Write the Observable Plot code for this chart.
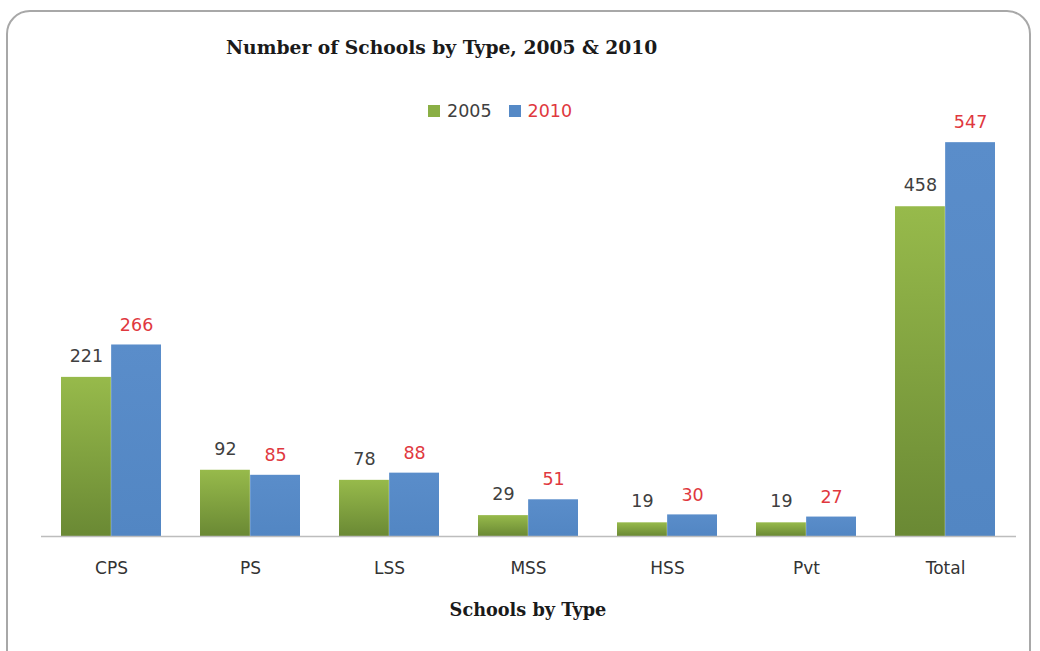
<!DOCTYPE html>
<html>
<head>
<meta charset="utf-8">
<script src="https://cdn.jsdelivr.net/npm/d3@7"></script>
<script src="https://cdn.jsdelivr.net/npm/@observablehq/plot@0.6"></script>
<style>
  html, body { margin: 0; padding: 0; background: #fff; width: 1040px; height: 651px; overflow: hidden; }
  #wrap { position: relative; width: 1040px; height: 651px; }
  #frame { position: absolute; left: 6px; top: 10px; width: 1025px; height: 680px; border: 2px solid #a8a8a8; border-radius: 24px; box-sizing: border-box; }
  #title { position: absolute; left: 226px; top: 34px; font-family: "DejaVu Serif", serif; font-weight: bold; font-size: 18.7px; color: #1a1a1a; white-space: nowrap; line-height: 26px; letter-spacing: 0px; }
  #legend { position: absolute; left: 428px; top: 99px; font-family: "DejaVu Sans", sans-serif; font-size: 17.5px; line-height: 24px; white-space: nowrap; display: flex; align-items: center; }
  #legend .sw { display: inline-block; width: 12px; height: 12px; margin-right: 7px; }
  #legend .item { display: inline-flex; align-items: center; margin-right: 17px; }
  #xtitle { position: absolute; left: 0; width: 1056px; text-align: center; top: 597px; font-family: "DejaVu Serif", serif; font-weight: bold; font-size: 17.7px; color: #1a1a1a; line-height: 26px; letter-spacing: 0px; }
  #chart { position: absolute; left: 0; top: 0; }
</style>
</head>
<body>
<div id="wrap">
  <div id="frame"></div>
  <div id="chart"></div>
  <div id="title">Number of Schools by Type, 2005 &amp; 2010</div>
  <div id="legend"></div>
  <div id="xtitle">Schools by Type</div>
</div>
<script>
const categories = ["CPS", "PS", "LSS", "MSS", "HSS", "Pvt", "Total"];
const years = ["2005", "2010"];
const values2005 = [221, 92, 78, 29, 19, 19, 458];
const values2010 = [266, 85, 88, 51, 30, 27, 547];
const yDomain = [0, 600];

const seriesColors = {"2005": "url(#gGreen)", "2010": "url(#gBlue)"};
const labelColors = {"2005": "#404040", "2010": "#e0383e"};
const legendSwatch = {"2005": "#8aaf45", "2010": "#5589c6"};

const rows2005 = categories.map((c, i) => ({category: c, year: "2005", value: values2005[i]}));
const rows2010 = categories.map((c, i) => ({category: c, year: "2010", value: values2010[i]}));

const W = 1040, H = 590, mL = 41, mR = 24, mT = 104, mB = 54;
const pInner = 0.28, pOuter = 0.14;
const band = d3.scaleBand().domain(categories).range([mL, W - mR]).paddingInner(pInner).paddingOuter(pOuter);
const half = band.bandwidth() / 2;

const chart = Plot.plot({
  width: W,
  height: H,
  marginLeft: mL,
  marginRight: mR,
  marginTop: mT,
  marginBottom: mB,
  style: {fontFamily: "'DejaVu Sans', sans-serif", background: "transparent"},
  x: {domain: categories, paddingInner: pInner, paddingOuter: pOuter, label: null, tickSize: 0, tickPadding: 25},
  y: {domain: yDomain, axis: null},
  marks: [
    Plot.barY(rows2005, {x: "category", y: "value", fill: seriesColors["2005"], insetRight: half, insetLeft: 0}),
    Plot.barY(rows2010, {x: "category", y: "value", fill: seriesColors["2010"], insetLeft: half, insetRight: 0}),
    Plot.ruleY([0], {stroke: "#bdbdbd", strokeWidth: 1.5}),
    Plot.text(rows2005, {x: "category", y: "value", text: d => String(d.value), dx: -half / 2, dy: -21, fill: labelColors["2005"], fontSize: 17.5}),
    Plot.text(rows2010, {x: "category", y: "value", text: d => String(d.value), dx: half / 2, dy: -20, fill: labelColors["2010"], fontSize: 17.5}),
    Plot.axisX({tickSize: 0, tickPadding: 25, fontSize: 17, fill: "#333", label: null})
  ]
});

// gradients for bars
const ns = "http://www.w3.org/2000/svg";
const defs = document.createElementNS(ns, "defs");
function grad(id, top, bottom) {
  const g = document.createElementNS(ns, "linearGradient");
  g.setAttribute("id", id);
  g.setAttribute("x1", "0"); g.setAttribute("y1", "0");
  g.setAttribute("x2", "0"); g.setAttribute("y2", "1");
  [[0, top], [1, bottom]].forEach(([o, c]) => {
    const s = document.createElementNS(ns, "stop");
    s.setAttribute("offset", o);
    s.setAttribute("stop-color", c);
    g.appendChild(s);
  });
  defs.appendChild(g);
}
grad("gGreen", "#97ba4b", "#6a8934");
grad("gBlue", "#5a8dca", "#5286c3");
chart.insertBefore(defs, chart.firstChild);
document.getElementById("chart").appendChild(chart);

// legend
const legend = d3.select("#legend");
years.forEach(y => {
  const it = legend.append("span").attr("class", "item");
  it.append("span").attr("class", "sw").style("background", legendSwatch[y]);
  it.append("span").style("color", labelColors[y]).text(y);
});
</script>
</body>
</html>
